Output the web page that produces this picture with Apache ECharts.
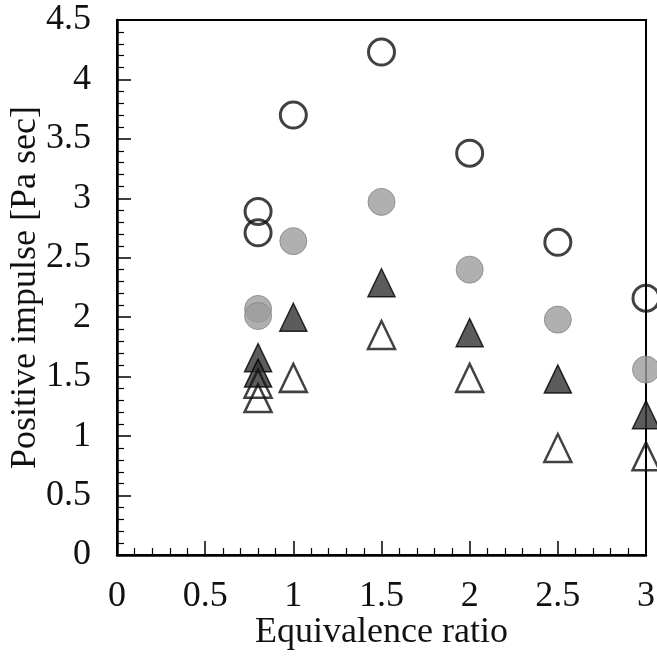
<!DOCTYPE html>
<html>
<head>
<meta charset="utf-8">
<script src="https://cdn.jsdelivr.net/npm/echarts@6/dist/echarts.min.js"></script>
<style>
html,body{margin:0;padding:0;background:#fff;}
#chart{width:657px;height:659px;}
</style>
</head>
<body>
<div id="chart"></div>
<script>
// Data
const phiOpenCircle = [0.8, 0.8, 1.0, 1.5, 2.0, 2.5, 3.0];
const impOpenCircle = [2.89, 2.71, 3.70, 4.23, 3.38, 2.63, 2.16];
const phiGrayCircle = [0.8, 0.8, 1.0, 1.5, 2.0, 2.5, 3.0];
const impGrayCircle = [2.07, 2.01, 2.64, 2.97, 2.40, 1.98, 1.56];
const phiDarkTri = [0.8, 0.8, 1.0, 1.5, 2.0, 2.5, 3.0];
const impDarkTri = [1.66, 1.53, 2.00, 2.29, 1.87, 1.48, 1.18];
const phiOpenTri = [0.8, 0.8, 1.0, 1.5, 2.0, 2.5, 3.0];
const impOpenTri = [1.44, 1.32, 1.49, 1.85, 1.49, 0.90, 0.83];

const xTitle = 'Equivalence ratio';
const yTitle = 'Positive impulse [Pa sec]';

function pairs(xs, ys) { return xs.map((x, i) => [x, ys[i]]); }

const font = 'Liberation Serif';
const axisCommon = {
  axisLine: { show: true, onZero: false, lineStyle: { color: '#000', width: 2.5 } },
  axisTick: { show: true, inside: true, length: 14, lineStyle: { color: '#000', width: 1.5 } },
  minorTick: { show: true, splitNumber: 5, length: 7, lineStyle: { color: '#000', width: 1.2 } },
  splitLine: { show: false },
  minorSplitLine: { show: false },
  axisLabel: { color: '#111', fontFamily: font, fontSize: 36 },
  nameTextStyle: { color: '#111', fontFamily: font, fontSize: 36 },
  nameMoveOverlap: false
};

const chart = echarts.init(document.getElementById('chart'), null, { renderer: 'canvas' });
chart.setOption({
  backgroundColor: '#fff',
  animation: false,
  grid: { left: 117, right: 11, top: 20, bottom: 104, show: true, borderColor: '#000', borderWidth: 2,
          containLabel: false, outerBoundsMode: 'none' },
  xAxis: Object.assign({}, axisCommon, {
    type: 'value', min: 0, max: 3, interval: 0.5,
    name: xTitle, nameLocation: 'middle', nameGap: 60,
    axisLabel: Object.assign({}, axisCommon.axisLabel, { margin: 24 })
  }),
  yAxis: Object.assign({}, axisCommon, {
    type: 'value', min: 0, max: 4.5, interval: 0.5,
    name: yTitle, nameLocation: 'middle', nameGap: 73,
    axisLabel: Object.assign({}, axisCommon.axisLabel, { margin: 26 })
  }),
  series: [
    {
      type: 'scatter', clip: false, symbol: 'circle', symbolSize: 26,
      data: pairs(phiOpenCircle, impOpenCircle),
      itemStyle: { color: 'rgba(255,255,255,0)', borderColor: '#111', borderWidth: 3 }
    },
    {
      type: 'scatter', clip: false, symbol: 'circle', symbolSize: 27,
      data: pairs(phiGrayCircle, impGrayCircle),
      itemStyle: { color: '#9c9c9c', borderColor: '#858585', borderWidth: 1 }
    },
    {
      type: 'scatter', clip: false, symbol: 'triangle', symbolSize: [27, 28],
      data: pairs(phiDarkTri, impDarkTri),
      itemStyle: { color: '#333', borderColor: '#000', borderWidth: 1.5 }
    },
    {
      type: 'scatter', clip: false, symbol: 'triangle', symbolSize: [27, 28],
      data: pairs(phiOpenTri, impOpenTri),
      itemStyle: { color: 'rgba(255,255,255,0)', borderColor: '#111', borderWidth: 2.5 }
    }
  ]
});
</script>
</body>
</html>
